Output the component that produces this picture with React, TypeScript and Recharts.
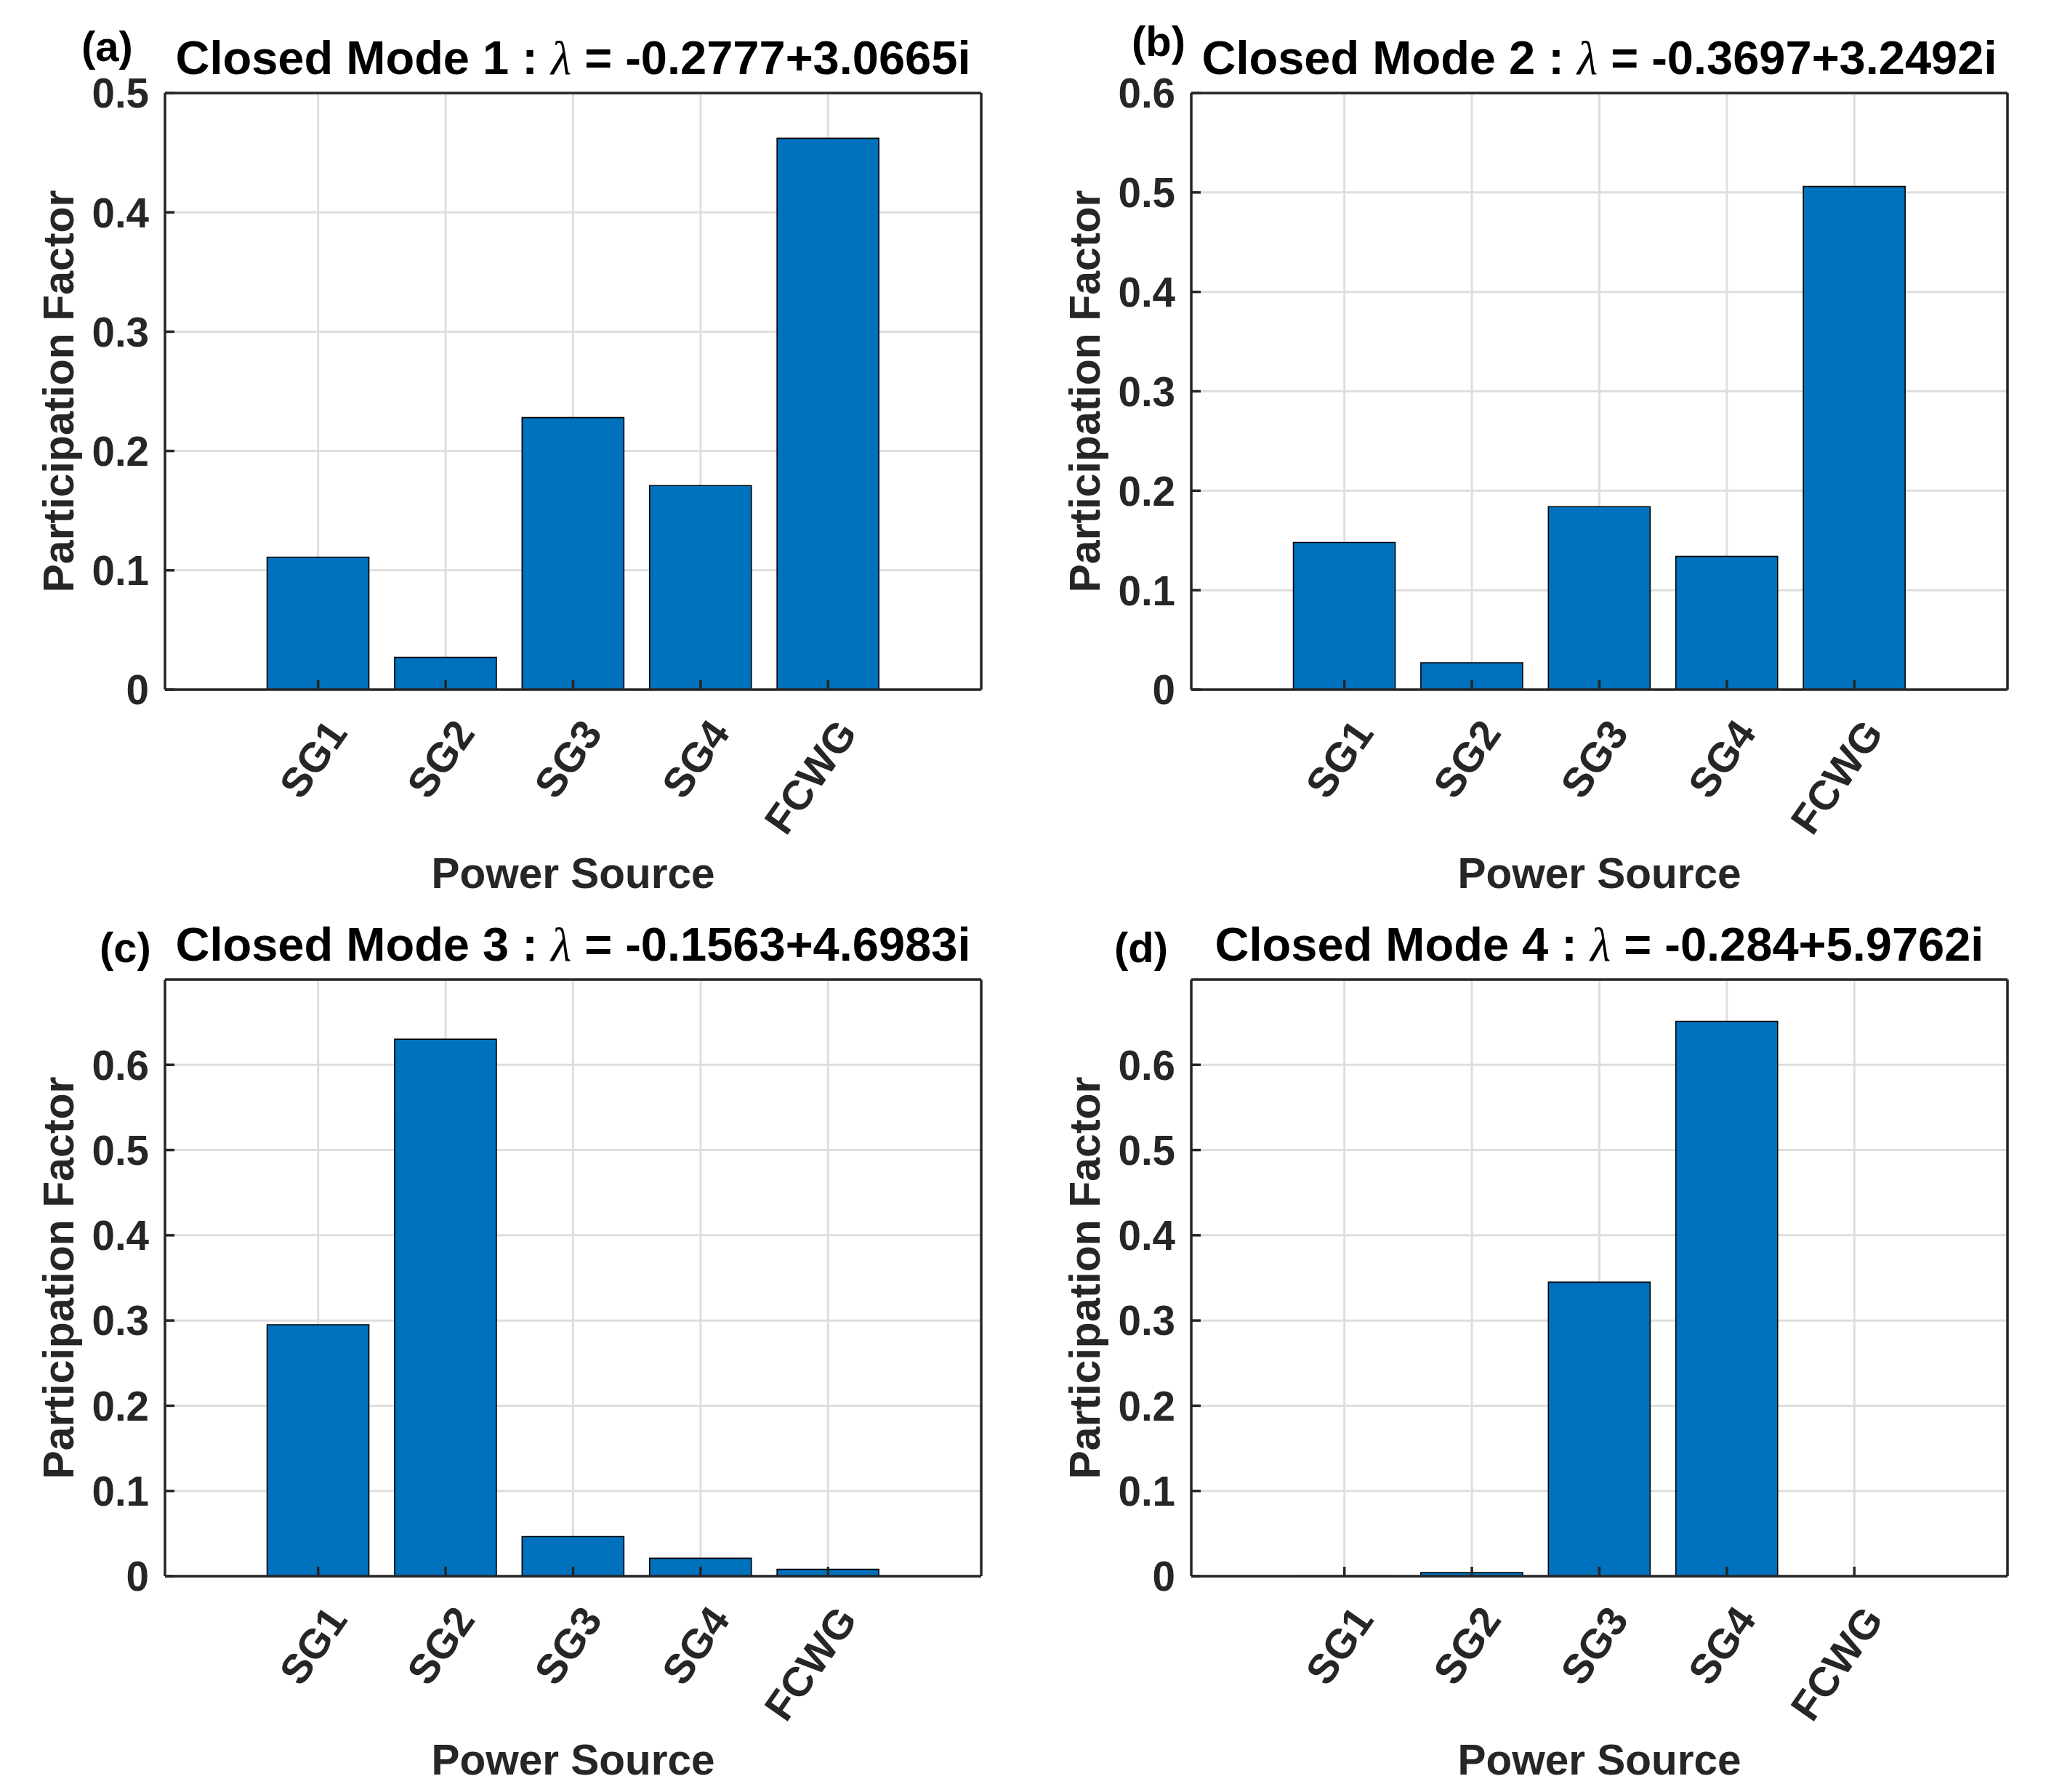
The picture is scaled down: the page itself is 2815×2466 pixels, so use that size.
import React from "react";
import { BarChart, Bar, XAxis, YAxis, CartesianGrid } from "recharts";

const categories = ["SG1", "SG2", "SG3", "SG4", "FCWG"];
const mode1 = [0.111, 0.027, 0.228, 0.171, 0.462];
const mode2 = [0.148, 0.027, 0.184, 0.134, 0.506];
const mode3 = [0.295, 0.63, 0.0465, 0.021, 0.008];
const mode4 = [0.0004, 0.0043, 0.345, 0.651, 0.0002];

const ticks05 = [0, 0.1, 0.2, 0.3, 0.4, 0.5];
const ticks06 = [0, 0.1, 0.2, 0.3, 0.4, 0.5, 0.6];

const panels = [
  { letter: "(a)", mode: "1", re: "-0.2777", im: "3.0665i", values: mode1, max: 0.5, ticks: ticks05, lx: 112, ly: 84, left: 0, top: 0 },
  { letter: "(b)", mode: "2", re: "-0.3697", im: "3.2492i", values: mode2, max: 0.6, ticks: ticks06, lx: 145, ly: 77, left: 1412, top: 0 },
  { letter: "(c)", mode: "3", re: "-0.1563", im: "4.6983i", values: mode3, max: 0.7, ticks: ticks06, lx: 137, ly: 104, left: 0, top: 1220 },
  { letter: "(d)", mode: "4", re: "-0.284", im: "5.9762i", values: mode4, max: 0.7, ticks: ticks06, lx: 121, ly: 104, left: 1412, top: 1220 },
];

const W = 1412;
const H = 1220;
const PLOT_L = 227;
const PLOT_T = 128;
const PLOT_W = 1123;
const PLOT_H = 821;
const AXIS = "#262626";
const FONT = "'Liberation Sans', Arial, Helvetica, sans-serif";

function XTick(props: any) {
  const { x, y, payload } = props;
  const ax = x + 42;
  const ay = y + 60;
  return (
    <text
      x={ax}
      y={ay}
      textAnchor="end"
      transform={`rotate(-55 ${ax} ${ay})`}
      fontFamily={FONT}
      fontWeight="bold"
      fontSize={57}
      fill={AXIS}
    >
      {payload.value}
    </text>
  );
}

function YTick(props: any) {
  const { x, y, payload } = props;
  return (
    <text
      x={x}
      y={y}
      dy="0.36em"
      textAnchor="end"
      fontFamily={FONT}
      fontWeight="bold"
      fontSize={56.5}
      fill={AXIS}
    >
      {payload.value === 0 ? "0" : String(payload.value)}
    </text>
  );
}

function Panel({ p }: { p: (typeof panels)[number] }) {
  const data = categories.map((name, i) => ({ name, value: p.values[i] }));
  const cx = PLOT_L + PLOT_W / 2;
  return (
    <div style={{ position: "absolute", left: p.left, top: p.top, width: W, height: H }}>
      <BarChart
        width={W}
        height={H}
        data={data}
        margin={{ top: PLOT_T - 1, left: PLOT_L - 100, right: W - PLOT_L - PLOT_W - 1, bottom: 0 }}
        barCategoryGap="10%"
      >
        <CartesianGrid stroke="#dedede" strokeWidth={3} />
        <XAxis
          dataKey="name"
          height={H - PLOT_T - PLOT_H}
          padding={{ left: 123, right: 123 }}
          axisLine={{ stroke: AXIS, strokeWidth: 3.5 }}
          tickLine={{ stroke: AXIS, strokeWidth: 3.5 }}
          tickSize={-13}
          tickMargin={13}
          interval={0}
          tick={<XTick />}
        />
        <XAxis
          xAxisId="top"
          dataKey="name"
          orientation="top"
          height={1}
          padding={{ left: 123, right: 123 }}
          axisLine={{ stroke: AXIS, strokeWidth: 3.5 }}
          tickLine={{ stroke: AXIS, strokeWidth: 3.5 }}
          tickSize={-13}
          interval={0}
          tick={false}
        />
        <YAxis
          width={100}
          domain={[0, p.max]}
          ticks={p.ticks}
          allowDataOverflow
          axisLine={{ stroke: AXIS, strokeWidth: 3.5 }}
          tickLine={{ stroke: AXIS, strokeWidth: 3.5 }}
          tickSize={-13}
          tickMargin={35}
          interval={0}
          tick={<YTick />}
        />
        <YAxis
          yAxisId="right"
          orientation="right"
          width={1}
          domain={[0, p.max]}
          ticks={p.ticks}
          allowDataOverflow
          axisLine={{ stroke: AXIS, strokeWidth: 3.5 }}
          tickLine={{ stroke: AXIS, strokeWidth: 3.5 }}
          tickSize={-13}
          interval={0}
          tick={false}
        />
        <Bar dataKey="value" fill="#0072BD" stroke="#000000" strokeWidth={1.6} isAnimationActive={false} />
      </BarChart>
      <svg
        width={W}
        height={H}
        style={{ position: "absolute", left: 0, top: 0, pointerEvents: "none", overflow: "visible" }}
      >
        <text x={p.lx} y={p.ly} fontFamily={FONT} fontWeight="bold" fontSize={58} fill="#000">
          {p.letter}
        </text>
        <text
          x={cx}
          y={101.7}
          textAnchor="middle"
          fontFamily={FONT}
          fontWeight="bold"
          fontSize={65}
          fill="#000"
          style={{ whiteSpace: "pre" }}
        >
          {`Closed Mode ${p.mode} : `}
          <tspan fontFamily="'Liberation Serif', 'DejaVu Serif', serif" fontStyle="italic" fontWeight="normal">
            λ
          </tspan>
          {` = ${p.re}+${p.im}`}
        </text>
        <text
          x={101}
          y={PLOT_T + PLOT_H / 2}
          textAnchor="middle"
          transform={`rotate(-90 101 ${PLOT_T + PLOT_H / 2})`}
          fontFamily={FONT}
          fontWeight="bold"
          fontSize={59}
          fill={AXIS}
        >
          Participation Factor
        </text>
        <text
          x={cx}
          y={1221.7}
          textAnchor="middle"
          fontFamily={FONT}
          fontWeight="bold"
          fontSize={58.5}
          fill={AXIS}
        >
          Power Source
        </text>
      </svg>
    </div>
  );
}

export default function App() {
  return (
    <div
      style={{
        position: "absolute",
        left: 0,
        top: 0,
        width: 2815,
        height: 2466,
        background: "#ffffff",
        overflow: "hidden",
      }}
    >
      {panels.map((p) => (
        <Panel key={p.letter} p={p} />
      ))}
    </div>
  );
}
